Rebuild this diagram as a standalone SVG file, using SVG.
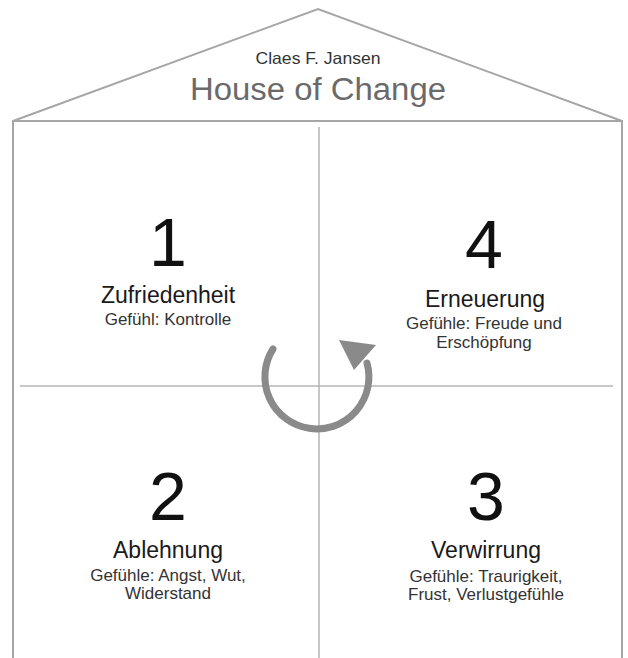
<svg xmlns="http://www.w3.org/2000/svg" width="628" height="658" viewBox="0 0 628 658">
<style>
text{font-family:"Liberation Sans",Arial,sans-serif;text-anchor:middle}
.frame{fill:none;stroke:#a6a6a6;stroke-width:2}
.grid{fill:none;stroke:#b4b4b4;stroke-width:1.5}
.num{font-size:68px;fill:#111}
.title{font-size:23px;fill:#1a1a1a}
.sub{font-size:17px;fill:#333}
</style>
<rect width="628" height="658" fill="#fff"/>
<g id="house">
<polyline class="frame" points="13,121 318,9 622,121"/>
<polyline class="frame" points="13,660 13,121 622,121 622,660"/>
<line class="grid" x1="319" y1="127" x2="319" y2="660"/>
<line class="grid" x1="20" y1="386" x2="613" y2="386"/>
<text x="318" y="64" style="font-size:16.5px;fill:#333" textLength="125" lengthAdjust="spacingAndGlyphs">Claes F. Jansen</text>
<text x="318" y="100" style="font-size:31px;fill:#6a6a6a" textLength="256" lengthAdjust="spacingAndGlyphs">House of Change</text>
</g>
<g id="q1">
<text class="num" x="168" y="266">1</text>
<text class="title" x="168" y="303">Zufriedenheit</text>
<text class="sub" x="168" y="325">Gefühl: Kontrolle</text>
</g>
<g id="q4">
<text class="num" x="484" y="268">4</text>
<text class="title" x="485" y="307">Erneuerung</text>
<text class="sub" x="484" y="329">Gefühle: Freude und</text>
<text class="sub" x="484" y="348">Erschöpfung</text>
</g>
<g id="q2">
<text class="num" x="168" y="520">2</text>
<text class="title" x="168" y="558">Ablehnung</text>
<text class="sub" x="168" y="581">Gefühle: Angst, Wut,</text>
<text class="sub" x="168" y="599">Widerstand</text>
</g>
<g id="q3">
<text class="num" x="486" y="520">3</text>
<text class="title" x="486" y="558">Verwirrung</text>
<text class="sub" x="486" y="582">Gefühle: Traurigkeit,</text>
<text class="sub" x="486" y="600">Frust, Verlustgefühle</text>
</g>
<g id="connectors">
<path d="M273,349 A52,52 0 1 0 367,363" fill="none" stroke="#8a8a8a" stroke-width="7" stroke-linecap="round"/>
<polygon points="339,340 376,345 354,370" fill="#8a8a8a"/>
</g>
</svg>
